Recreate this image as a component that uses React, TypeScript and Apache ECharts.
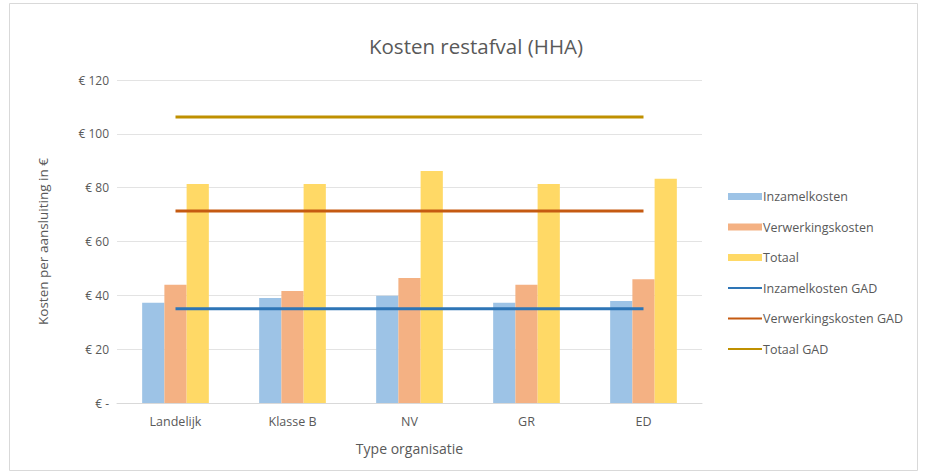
import React, { useEffect, useRef } from "react";
import * as echarts from "echarts";

const categories = ["Landelijk", "Klasse B", "NV", "GR", "ED"];
const inzamelkosten = [37.2, 39, 39.8, 37.2, 37.9];
const verwerkingskosten = [43.9, 41.6, 46.4, 43.9, 46];
const totaal = [81.4, 81.4, 86.2, 81.4, 83.3];
const inzamelGAD = [35, 35, 35, 35, 35];
const verwerkingGAD = [71.3, 71.3, 71.3, 71.3, 71.3];
const totaalGAD = [106.3, 106.3, 106.3, 106.3, 106.3];

const FONT = "'Open Sans', sans-serif";
const TXT = "#595959";
const LINE_ICON = "path://M0,0L34,0L34,0Z M0,2.5L34,2.5L34,4.5L0,4.5Z M0,7L34,7L34,7Z";

export default function App() {
  const ref = useRef<HTMLDivElement>(null);
  useEffect(() => {
    const chart = echarts.init(ref.current!, undefined, { renderer: "svg" });
    const lineSeries = (name: string, data: number[], color: string) => ({
      name,
      type: "line",
      data,
      symbol: "none",
      showSymbol: false,
      lineStyle: { color, width: 3 },
      itemStyle: { color },
      z: 5,
    });
    chart.setOption({
      animation: false,
      backgroundColor: "#ffffff",
      textStyle: { fontFamily: FONT },
      title: {
        text: "Kosten restafval (HHA)",
        left: 471,
        textAlign: "center",
        top: 30,
        textStyle: { fontSize: 20.5, fontWeight: "normal", color: TXT, fontFamily: FONT },
      },
      graphic: [
        {
          type: "rect",
          shape: { x: 9.5, y: 3.5, width: 908, height: 467 },
          style: { fill: "none", stroke: "#d9d9d9", lineWidth: 1 },
          silent: true,
        },
      ],
      legend: {
        orient: "vertical",
        left: 723,
        top: 183,
        itemGap: 13.5,
        itemWidth: 34,
        itemHeight: 7,
        textStyle: { color: TXT, fontSize: 12.5, lineHeight: 17, fontFamily: FONT, padding: [0, 0, 0, -4] },
        data: [
          { name: "Inzamelkosten", icon: "rect" },
          { name: "Verwerkingskosten", icon: "rect" },
          { name: "Totaal", icon: "rect" },
          { name: "Inzamelkosten GAD", icon: LINE_ICON, itemStyle: { borderWidth: 0 } },
          { name: "Verwerkingskosten GAD", icon: LINE_ICON, itemStyle: { borderWidth: 0 } },
          { name: "Totaal GAD", icon: LINE_ICON, itemStyle: { borderWidth: 0 } },
        ],
      },
      grid: { left: 117, right: 223, top: 80, bottom: 72, containLabel: false },
      xAxis: {
        type: "category",
        data: categories,
        name: "Type organisatie",
        nameLocation: "middle",
        nameGap: 38,
        nameTextStyle: { color: TXT, fontSize: 14, fontFamily: FONT },
        axisLine: { lineStyle: { color: "#d9d9d9" } },
        axisTick: { show: false },
        axisLabel: { color: TXT, fontSize: 12.5, margin: 12, fontFamily: FONT },
      },
      yAxis: {
        type: "value",
        min: 0,
        max: 120,
        interval: 20,
        name: "Kosten per aansluiting in €",
        nameLocation: "middle",
        nameGap: 67,
        nameTextStyle: { color: TXT, fontSize: 13.5, fontFamily: FONT },
        axisLine: { show: false },
        axisTick: { show: false },
        axisLabel: {
          color: TXT,
          fontSize: 12,
          margin: 8,
          fontFamily: FONT,
          formatter: (v: number) => (v === 0 ? "€ -" : "€ " + v),
        },
        splitLine: { lineStyle: { color: "#e3e3e3" } },
      },
      series: [
        { name: "Inzamelkosten", type: "bar", data: inzamelkosten, barGap: "0%", barCategoryGap: "43%", itemStyle: { color: "#9DC3E6" } },
        { name: "Verwerkingskosten", type: "bar", data: verwerkingskosten, itemStyle: { color: "#F4B183" } },
        { name: "Totaal", type: "bar", data: totaal, itemStyle: { color: "#FFD966" } },
        lineSeries("Inzamelkosten GAD", inzamelGAD, "#2E75B6"),
        lineSeries("Verwerkingskosten GAD", verwerkingGAD, "#C55A11"),
        lineSeries("Totaal GAD", totaalGAD, "#BF9000"),
      ],
    });
    return () => chart.dispose();
  }, []);
  return (
    <div
      ref={ref}
      style={{ position: "fixed", left: 0, top: 0, width: 925, height: 475 }}
    />
  );
}
